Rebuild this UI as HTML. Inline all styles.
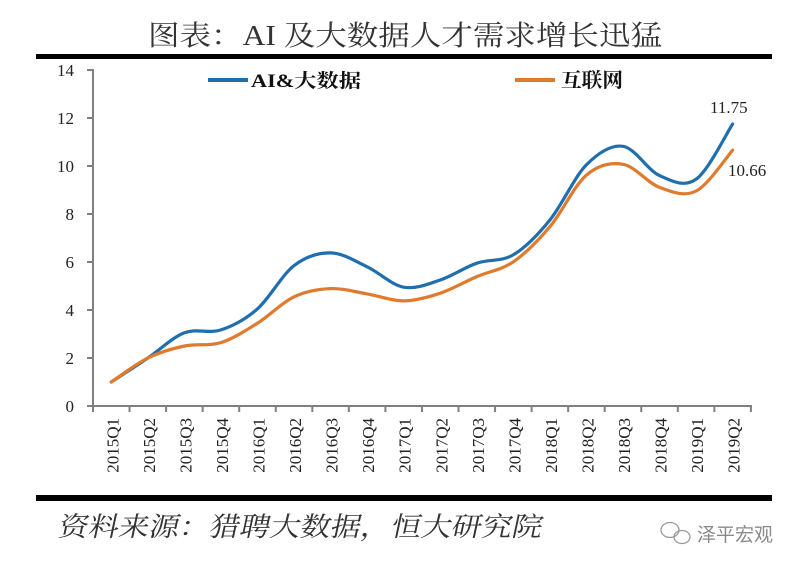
<!DOCTYPE html>
<html>
<head>
<meta charset="utf-8">
<style>
html,body{margin:0;padding:0;background:#fff;}
body{width:800px;height:568px;overflow:hidden;}
svg{display:block;}
</style>
</head>
<body>
<svg width="800" height="568" viewBox="0 0 800 568" xmlns="http://www.w3.org/2000/svg">
  <rect width="800" height="568" fill="#fff"/>
  <!-- Title -->
  <text x="148" y="45" font-family="'Liberation Serif','Noto Serif CJK SC',serif" font-size="28" fill="#333" textLength="514" lengthAdjust="spacingAndGlyphs">图表：AI 及大数据人才需求增长迅猛</text>
  <!-- top rule -->
  <rect x="36" y="54" width="736" height="5" fill="#000"/>

  <!-- Y axis -->
  <g stroke="#808080" stroke-width="2" fill="none">
    <line x1="93" y1="69" x2="93" y2="407"/>
    <line x1="87" y1="70" x2="93" y2="70"/>
    <line x1="87" y1="118" x2="93" y2="118"/>
    <line x1="87" y1="166" x2="93" y2="166"/>
    <line x1="87" y1="214" x2="93" y2="214"/>
    <line x1="87" y1="262" x2="93" y2="262"/>
    <line x1="87" y1="310" x2="93" y2="310"/>
    <line x1="87" y1="358" x2="93" y2="358"/>
    <line x1="87" y1="406" x2="93" y2="406"/>
    <!-- X axis -->
    <line x1="92" y1="406" x2="752" y2="406"/>
    <line x1="93.0" y1="406" x2="93.0" y2="412"/>
    <line x1="129.55" y1="406" x2="129.55" y2="412"/>
    <line x1="166.1" y1="406" x2="166.1" y2="412"/>
    <line x1="202.65" y1="406" x2="202.65" y2="412"/>
    <line x1="239.2" y1="406" x2="239.2" y2="412"/>
    <line x1="275.75" y1="406" x2="275.75" y2="412"/>
    <line x1="312.3" y1="406" x2="312.3" y2="412"/>
    <line x1="348.85" y1="406" x2="348.85" y2="412"/>
    <line x1="385.4" y1="406" x2="385.4" y2="412"/>
    <line x1="421.95" y1="406" x2="421.95" y2="412"/>
    <line x1="458.5" y1="406" x2="458.5" y2="412"/>
    <line x1="495.05" y1="406" x2="495.05" y2="412"/>
    <line x1="531.6" y1="406" x2="531.6" y2="412"/>
    <line x1="568.15" y1="406" x2="568.15" y2="412"/>
    <line x1="604.7" y1="406" x2="604.7" y2="412"/>
    <line x1="641.25" y1="406" x2="641.25" y2="412"/>
    <line x1="677.8" y1="406" x2="677.8" y2="412"/>
    <line x1="714.35" y1="406" x2="714.35" y2="412"/>
    <line x1="750.9" y1="406" x2="750.9" y2="412"/>
  </g>

  <!-- Y labels -->
  <g font-family="'Liberation Serif',serif" font-size="17" fill="#222" text-anchor="end">
    <text x="74" y="76">14</text>
    <text x="74" y="124">12</text>
    <text x="74" y="172">10</text>
    <text x="74" y="220">8</text>
    <text x="74" y="268">6</text>
    <text x="74" y="316">4</text>
    <text x="74" y="364">2</text>
    <text x="74" y="412">0</text>
  </g>

  <!-- X labels -->
  <g font-family="'Liberation Serif',serif" font-size="17" fill="#222" text-anchor="end">
    <text transform="translate(118.3,418) rotate(-90)">2015Q1</text>
    <text transform="translate(154.85,418) rotate(-90)">2015Q2</text>
    <text transform="translate(191.4,418) rotate(-90)">2015Q3</text>
    <text transform="translate(227.95,418) rotate(-90)">2015Q4</text>
    <text transform="translate(264.5,418) rotate(-90)">2016Q1</text>
    <text transform="translate(301.05,418) rotate(-90)">2016Q2</text>
    <text transform="translate(337.6,418) rotate(-90)">2016Q3</text>
    <text transform="translate(374.15,418) rotate(-90)">2016Q4</text>
    <text transform="translate(410.7,418) rotate(-90)">2017Q1</text>
    <text transform="translate(447.25,418) rotate(-90)">2017Q2</text>
    <text transform="translate(483.8,418) rotate(-90)">2017Q3</text>
    <text transform="translate(520.35,418) rotate(-90)">2017Q4</text>
    <text transform="translate(556.9,418) rotate(-90)">2018Q1</text>
    <text transform="translate(593.45,418) rotate(-90)">2018Q2</text>
    <text transform="translate(630.0,418) rotate(-90)">2018Q3</text>
    <text transform="translate(666.55,418) rotate(-90)">2018Q4</text>
    <text transform="translate(703.1,418) rotate(-90)">2019Q1</text>
    <text transform="translate(739.65,418) rotate(-90)">2019Q2</text>
  </g>

  <!-- Legend -->
  <line x1="208" y1="80" x2="248" y2="80" stroke="#1f6eae" stroke-width="4"/>
  <text x="251" y="87" font-family="'Liberation Serif','Noto Serif CJK SC',serif" font-size="19" font-weight="bold" fill="#111" textLength="110" lengthAdjust="spacingAndGlyphs">AI&amp;大数据</text>
  <line x1="515" y1="80" x2="555" y2="80" stroke="#e07a2c" stroke-width="4"/>
  <text x="561" y="87" font-family="'Liberation Serif','Noto Serif CJK SC',serif" font-size="20" font-weight="bold" fill="#111" textLength="62" lengthAdjust="spacingAndGlyphs">互联网</text>

  <!-- Blue series -->
  <path fill="none" stroke="#1f6eae" stroke-width="3.2" stroke-linecap="round" stroke-linejoin="round"
    d="M111.3,382 C117.39,378.0 135.67,366.2 147.85,358.0
       C160.03,349.8 172.22,337.48 184.4,332.8
       C196.58,328.12 208.77,333.9 220.95,329.9
       C233.13,325.9 245.32,319.52 257.5,308.8
       C269.68,298.08 281.87,274.92 294.05,265.6
       C306.23,256.28 318.42,252.7 330.6,252.9
       C342.78,253.1 354.97,261.08 367.15,266.8
       C379.33,272.52 391.52,285.0 403.7,287.2
       C415.88,289.4 428.07,284.0 440.25,280.0
       C452.43,276.0 464.62,267.4 476.8,263.2
       C488.98,259.0 501.17,262.0 513.35,254.8
       C525.53,247.6 537.72,235.0 549.9,220.0
       C562.08,205.0 574.27,177.08 586.45,164.8
       C598.63,152.52 610.82,144.5 623.0,146.3
       C635.18,148.1 647.37,170.12 659.55,175.6
       C671.73,181.08 683.92,187.8 696.1,179.2
       C708.28,170.6 726.56,133.2 732.65,124.0"/>

  <!-- Orange series -->
  <path fill="none" stroke="#e07a2c" stroke-width="3.2" stroke-linecap="round" stroke-linejoin="round"
    d="M111.3,382 C117.39,378.0 135.67,364.0 147.85,358.0
       C160.03,352.0 172.22,348.57 184.4,346.0
       C196.58,343.43 208.77,346.4 220.95,342.6
       C233.13,338.8 245.32,330.83 257.5,323.2
       C269.68,315.57 281.87,302.57 294.05,296.8
       C306.23,291.03 318.42,289.08 330.6,288.6
       C342.78,288.12 354.97,291.85 367.15,293.9
       C379.33,295.95 391.52,301.02 403.7,300.9
       C415.88,300.78 428.07,297.25 440.25,293.2
       C452.43,289.15 464.62,281.83 476.8,276.6
       C488.98,271.37 501.17,270.12 513.35,261.8
       C525.53,253.48 537.72,241.15 549.9,226.7
       C562.08,212.25 574.27,185.5 586.45,175.1
       C598.63,164.7 610.82,162.25 623.0,164.3
       C635.18,166.35 647.37,182.95 659.55,187.4
       C671.73,191.85 683.92,197.2 696.1,191.0
       C708.28,184.8 726.56,157.0 732.65,150.2"/>

  <!-- Data labels -->
  <g font-family="'Liberation Serif',serif" font-size="17" fill="#222">
    <text x="710" y="113">11.75</text>
    <text x="728" y="176">10.66</text>
  </g>

  <!-- bottom rule -->
  <rect x="36" y="495" width="736" height="6" fill="#000"/>

  <!-- Source -->
  <g transform="translate(57,536) skewX(-12)">
    <text x="0" y="0" font-family="'Liberation Serif','Noto Serif CJK SC',serif" font-size="27" fill="#333" textLength="484" lengthAdjust="spacingAndGlyphs">资料来源：猎聘大数据，恒大研究院</text>
  </g>

  <!-- Logo -->
  <g fill="none" stroke="#9a9a9a" stroke-width="1.3">
    <ellipse cx="670" cy="530" rx="9" ry="7.5"/>
    <ellipse cx="682" cy="537" rx="8" ry="6.5"/>
  </g>
  <text x="697" y="541" font-family="'Noto Sans CJK SC',sans-serif" font-size="19" fill="#8a8a8a" textLength="76" lengthAdjust="spacingAndGlyphs">泽平宏观</text>
</svg>
</body>
</html>
